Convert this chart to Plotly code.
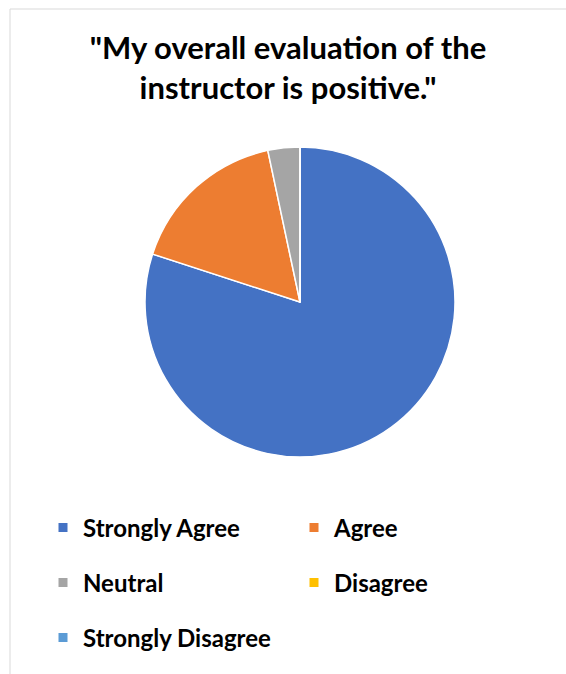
import plotly.graph_objects as go

# Data
categories = ["Strongly Agree", "Agree", "Neutral", "Disagree", "Strongly Disagree"]
counts = [24, 5, 1, 0, 0]
colors = ["#4472C4", "#ED7D31", "#A5A5A5", "#FFC000", "#5B9BD5"]
title_text = '"My overall evaluation of the<br>instructor is positive."'

W, H = 566, 674
FONT = "Lato"

fig = go.Figure()

fig.add_trace(go.Pie(
    labels=categories,
    values=counts,
    marker=dict(colors=colors, line=dict(color="white", width=1.5)),
    sort=False,
    direction="clockwise",
    rotation=0,
    textinfo="none",
    hoverinfo="label+value+percent",
    showlegend=False,
    domain=dict(x=[145 / W, 455 / W], y=[1 - 457 / H, 1 - 147 / H]),
))

# Legend entries: 2 per row, three rows
rows = [["Strongly Agree", "Agree"], ["Neutral", "Disagree"], ["Strongly Disagree"]]
legend_names = ["legend", "legend2", "legend3"]
row_centers = [528, 583, 638]
for li, row in enumerate(rows):
    for name in row:
        i = categories.index(name)
        fig.add_trace(go.Scatter(
            x=[None], y=[None], mode="markers", name=name,
            marker=dict(symbol="square", size=9, color=colors[i]),
            legend=legend_names[li], showlegend=True, hoverinfo="skip",
        ))

legend_common = dict(
    orientation="h", xanchor="left", yanchor="middle",
    font=dict(family=FONT, size=24, color="#000000", weight="bold"),
    entrywidth=206, entrywidthmode="pixels",
    bgcolor="rgba(0,0,0,0)", borderwidth=0,
    itemclick=False, itemdoubleclick=False,
)
layout_legends = {}
for li, ln in enumerate(legend_names):
    layout_legends[ln] = dict(legend_common, x=43 / W, y=1 - row_centers[li] / H)

fig.update_layout(
    width=W, height=H,
    margin=dict(l=0, r=0, t=0, b=0),
    paper_bgcolor="white", plot_bgcolor="white",
    title=dict(
        text=title_text, x=288 / W, xanchor="center",
        y=1 - 59 / H, yanchor="top",
        font=dict(family=FONT, size=31, color="#000000", weight="bold"),
    ),
    xaxis=dict(visible=False), yaxis=dict(visible=False),
    shapes=[dict(
        type="rect", xref="paper", yref="paper",
        x0=10 / W, x1=1.02, y0=-0.02, y1=1 - 9 / H,
        line=dict(color="#D9D9D9", width=1), fillcolor="rgba(0,0,0,0)", layer="below",
    )],
    **layout_legends,
)

fig.write_html("out.html")
